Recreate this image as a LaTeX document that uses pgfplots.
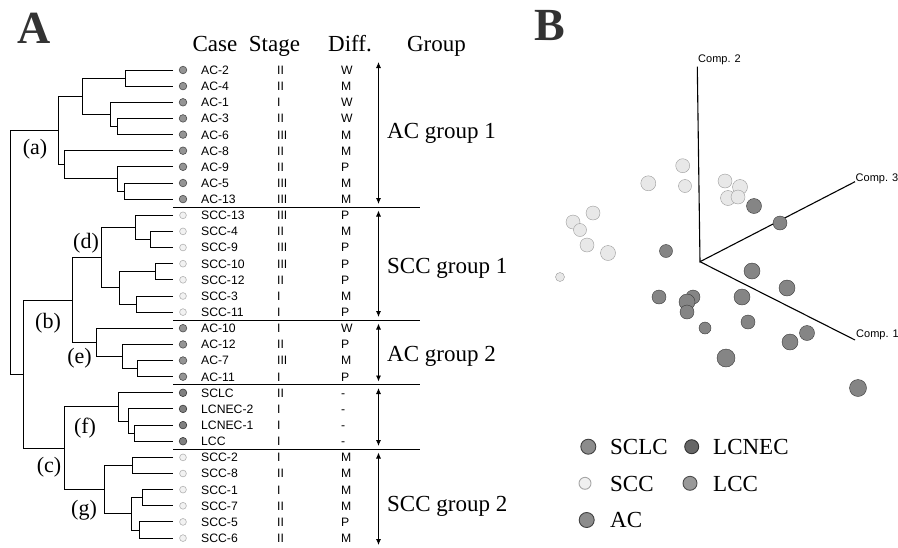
\documentclass[border=0pt]{standalone}
\usepackage{pgfplots}
\pgfplotsset{compat=1.18}
\usepackage{fontspec}
\setmainfont{Liberation Serif}
\newfontfamily\arial{Liberation Sans}
\usetikzlibrary{arrows.meta}
\tikzset{den/.style={black, line width=0.95pt},
  lab/.style={anchor=base west, inner sep=0pt, yshift=-4.4pt, font=\arial\fontsize{12.2}{12}\selectfont},
  big/.style={inner sep=0pt, font=\fontsize{23}{23}\selectfont},
  par/.style={inner sep=0pt, font=\fontsize{22}{22}\selectfont},
  dbl/.style={black, line width=0.8pt, {Latex[length=6pt,width=5pt]}-{Latex[length=6pt,width=5pt]}}}
\newcommand{\br}[5]{\addplot[den] coordinates {(#3,#2) (#1,#2) (#1,#4) (#5,#4)};}
\newcommand{\row}[4]{%
  \node[lab] at (axis cs:201,#1) {#2};
  \node[lab] at (axis cs:277,#1) {#3};
  \node[lab] at (axis cs:341,#1) {#4};}
\begin{document}
\begin{tikzpicture}
\begin{axis}[at={(0,0)}, anchor=south west, scale only axis,
  width=898pt, height=547pt, xmin=0, xmax=898, ymin=0, ymax=547,
  y dir=reverse, hide axis, clip=false]
\coordinate (bl) at (axis cs:0,547);
\coordinate (tr) at (axis cs:898,0);
% ---------- Panel A : dendrogram ----------
% AC group 1
\br{125}{70}{173}{86.1}{173}
\br{117}{118.4}{173}{134.6}{173}
\br{110}{102.3}{173}{126.5}{117}
\br{82}{78.05}{125}{114.4}{110}
\br{124}{183}{173}{199.1}{173}
\br{117}{166.8}{173}{191.05}{124}
\br{64}{150.7}{173}{178.9}{117}
\br{58}{96.2}{82}{164.8}{64}
% (d)
\br{150.7}{231.4}{173}{247.5}{173}
\br{135}{215.3}{173}{239.45}{150.7}
\br{155}{263.7}{173}{279.8}{173}
\br{136.7}{296}{173}{312.1}{173}
\br{119.3}{271.75}{155}{304.05}{136.7}
\br{101.7}{227.4}{135}{287.9}{119.3}
% (e)
\br{137}{360.5}{173}{376.7}{173}
\br{122}{344.4}{173}{368.6}{137}
\br{96}{328.2}{173}{356.5}{122}
\br{72.7}{257.65}{101.7}{342.35}{96}
% (f)
\br{134}{425.1}{173}{441.2}{173}
\br{128.3}{408.9}{173}{433.15}{134}
\br{118.3}{392.8}{173}{421}{128.3}
% (g)
\br{132.3}{457.4}{173}{473.5}{173}
\br{142.3}{489.6}{173}{505.8}{173}
\br{139}{521.9}{173}{538.1}{173}
\br{131}{497.7}{142.3}{530}{139}
\br{104.3}{465.45}{132.3}{513.85}{131}
\br{64.3}{406.9}{118.3}{489.65}{104.3}
\br{23}{300}{72.7}{448.3}{64.3}
\br{10}{130.5}{58}{374.15}{23}
% separators
\addplot[black, line width=0.8pt] coordinates {(173,207.2) (420,207.2)};
\addplot[black, line width=0.8pt] coordinates {(173,320.2) (420,320.2)};
\addplot[black, line width=0.8pt] coordinates {(173,384.8) (420,384.8)};
\addplot[black, line width=0.8pt] coordinates {(173,449.3) (420,449.3)};
% group arrows
\addplot[dbl] coordinates {(378.5,62) (378.5,204)};
\addplot[dbl] coordinates {(378.5,210.5) (378.5,317)};
\addplot[dbl] coordinates {(378.5,323.5) (378.5,381.5)};
\addplot[dbl] coordinates {(378.5,388) (378.5,446)};
\addplot[dbl] coordinates {(378.5,452.5) (378.5,545)};
% dots
\addplot[only marks, mark=*, mark size=3.8, mark options={fill=black!42, draw=black!70, line width=0.6pt}]
  coordinates {(183,70) (183,86.1) (183,102.3) (183,118.4) (183,134.6) (183,150.7) (183,166.8) (183,183) (183,199.1)
  (183,328.2) (183,344.4) (183,360.5) (183,376.7)};
\addplot[only marks, mark=*, mark size=3.8, mark options={fill=black!50, draw=black!78, line width=0.6pt}]
  coordinates {(183,392.8) (183,408.9) (183,425.1) (183,441.2)};
\addplot[only marks, mark=*, mark size=3.4, mark options={fill=black!5, draw=black!30, line width=0.6pt}]
  coordinates {(183,215.3) (183,231.4) (183,247.5) (183,263.7) (183,279.8) (183,296) (183,312.1)
  (183,457.4) (183,473.5) (183,489.6) (183,505.8) (183,521.9) (183,538.1)};
% rows
\row{70}{AC-2}{II}{W}
\row{86.1}{AC-4}{II}{M}
\row{102.3}{AC-1}{I}{W}
\row{118.4}{AC-3}{II}{W}
\row{134.6}{AC-6}{III}{M}
\row{150.7}{AC-8}{II}{M}
\row{166.8}{AC-9}{II}{P}
\row{183}{AC-5}{III}{M}
\row{199.1}{AC-13}{III}{M}
\row{215.3}{SCC-13}{III}{P}
\row{231.4}{SCC-4}{II}{M}
\row{247.5}{SCC-9}{III}{P}
\row{263.7}{SCC-10}{III}{P}
\row{279.8}{SCC-12}{II}{P}
\row{296}{SCC-3}{I}{M}
\row{312.1}{SCC-11}{I}{P}
\row{328.2}{AC-10}{I}{W}
\row{344.4}{AC-12}{II}{P}
\row{360.5}{AC-7}{III}{M}
\row{376.7}{AC-11}{I}{P}
\row{392.8}{SCLC}{II}{-}
\row{408.9}{LCNEC-2}{I}{-}
\row{425.1}{LCNEC-1}{I}{-}
\row{441.2}{LCC}{I}{-}
\row{457.4}{SCC-2}{I}{M}
\row{473.5}{SCC-8}{II}{M}
\row{489.6}{SCC-1}{I}{M}
\row{505.8}{SCC-7}{II}{M}
\row{521.9}{SCC-5}{II}{P}
\row{538.1}{SCC-6}{II}{M}
% headings
\node[big, anchor=base] at (axis cs:215,51) {Case};
\node[big, anchor=base] at (axis cs:274.5,51) {Stage};
\node[big, anchor=base] at (axis cs:350,51) {Diff.};
\node[big, anchor=base] at (axis cs:436.5,51) {Group};
\node[big, anchor=base west] at (axis cs:387,138.5) {AC group 1};
\node[big, anchor=base west] at (axis cs:387,273.3) {SCC group 1};
\node[big, anchor=base west] at (axis cs:387,361.7) {AC group 2};
\node[big, anchor=base west] at (axis cs:387,511) {SCC group 2};
\node[par] at (axis cs:35,149) {(a)};
\node[par] at (axis cs:48,323.5) {(b)};
\node[par] at (axis cs:49,467) {(c)};
\node[par] at (axis cs:86,243) {(d)};
\node[par] at (axis cs:79.5,358) {(e)};
\node[par] at (axis cs:85,428) {(f)};
\node[par] at (axis cs:84,510) {(g)};
\node[inner sep=0pt, anchor=base, text=black!80, font=\fontsize{46}{46}\selectfont\bfseries] at (axis cs:34,43) {A};
\node[inner sep=0pt, anchor=base, text=black!80, font=\fontsize{46}{46}\selectfont\bfseries] at (axis cs:550,40) {B};
% ---------- Panel B : PCA ----------
\addplot[black, line width=1.1pt] coordinates {(697.3,66.7) (700,261.7) (855,181.7)};
\addplot[black, line width=1.1pt] coordinates {(700,261.7) (855,340)};
\node[anchor=west, inner sep=0pt, font=\arial\fontsize{11}{11}\selectfont] at (axis cs:698,60) {Comp. 2};
\node[anchor=west, inner sep=0pt, font=\arial\fontsize{11}{11}\selectfont] at (axis cs:855.5,179) {Comp. 3};
\node[anchor=west, inner sep=0pt, font=\arial\fontsize{11}{11}\selectfont] at (axis cs:856,335) {Comp. 1};
\addplot[scatter, only marks, mark=*, scatter/use mapped color={draw=black!40, fill=black!9},
  visualization depends on={\thisrow{r}\as\rr},
  scatter/@pre marker code/.append style={/tikz/mark size=\rr, /tikz/line width=0.9pt}]
  table[row sep=\\] {x y r\\
  682.7 165.7 7\\ 648.3 183.3 7.5\\ 685 186 6.5\\ 725 181 7\\ 740 187 7.5\\ 728 198 7.5\\ 738 197 7\\
  593 213 7\\ 573 222 7\\ 580 230 6.5\\ 587 245 7\\ 608 253 7.5\\ 560 277 4.5\\};
\addplot[scatter, only marks, mark=*, scatter/use mapped color={draw=black!78, fill=black!48},
  visualization depends on={\thisrow{r}\as\rr},
  scatter/@pre marker code/.append style={/tikz/mark size=\rr, /tikz/line width=0.9pt}]
  table[row sep=\\] {x y r\\
  754 206 7.5\\ 780 223 7\\ 666 251 6.5\\ 752 271 8\\ 787 288 8\\ 659 297 7\\ 693 297 7\\ 687 302 8\\
  687 312 7\\ 742 297 8\\ 705 328 6\\ 748 322 7\\ 807 333 7.5\\ 790 342 8\\ 726 358 9\\ 858 388 8.5\\};
% legend
\addplot[only marks, mark=*, mark size=7.5, mark options={fill=black!45, draw=black!75, line width=0.9pt}] coordinates {(588.3,446.7)};
\addplot[only marks, mark=*, mark size=7, mark options={fill=black!60, draw=black!80, line width=0.9pt}] coordinates {(691.7,446.7)};
\addplot[only marks, mark=*, mark size=6, mark options={fill=black!6, draw=black!35, line width=0.9pt}] coordinates {(585,483.3)};
\addplot[only marks, mark=*, mark size=7, mark options={fill=black!40, draw=black!70, line width=0.9pt}] coordinates {(690,483.3)};
\addplot[only marks, mark=*, mark size=7.5, mark options={fill=black!45, draw=black!75, line width=0.9pt}] coordinates {(586.7,520)};
\node[big, anchor=base west] at (axis cs:610,454.3) {SCLC};
\node[big, anchor=base west] at (axis cs:713,454.3) {LCNEC};
\node[big, anchor=base west] at (axis cs:610,491) {SCC};
\node[big, anchor=base west] at (axis cs:713,491) {LCC};
\node[big, anchor=base west] at (axis cs:610,527.7) {AC};
\end{axis}
\pgfresetboundingbox
\path[use as bounding box] (bl) rectangle (tr);
\end{tikzpicture}
\end{document}
